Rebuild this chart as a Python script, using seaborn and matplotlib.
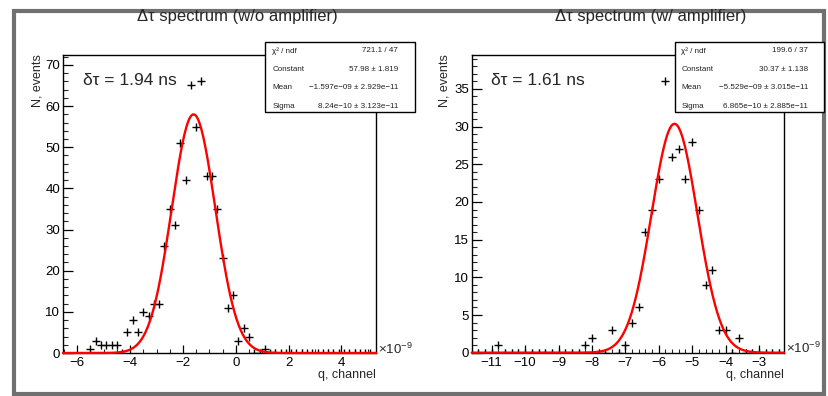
import numpy as np
import matplotlib
matplotlib.use("Agg")
import matplotlib.pyplot as plt
import seaborn as sns
from matplotlib.patches import Rectangle
from matplotlib.ticker import MultipleLocator

sns.set_theme(style="white")
plt.rcParams['font.family'] = ['Liberation Sans', 'DejaVu Sans']
plt.rcParams['mathtext.fontset'] = 'custom'
plt.rcParams['mathtext.rm'] = 'Liberation Sans'
plt.rcParams['mathtext.it'] = 'Liberation Sans:italic'
plt.rcParams['axes.unicode_minus'] = True

# ---------------- data (x in units of 1e-9) ----------------
left_x = [-5.5, -5.3, -5.1, -4.9, -4.7, -4.5, -4.3, -4.1, -3.9, -3.7, -3.5, -3.3,
          -3.1, -2.9, -2.7, -2.5, -2.3, -2.1, -1.9, -1.7, -1.5, -1.3, -1.1, -0.9,
          -0.7, -0.5, -0.3, -0.1, 0.1, 0.3, 0.5, 0.7, 0.9, 1.1, 1.3, 1.5, 1.7, 1.9,
          2.1, 2.3, 2.5, 2.7, 2.9, 3.1, 3.3, 3.5, 3.7, 3.9, 4.1, 4.3, 4.5, 4.7, 4.9, 5.1]
left_n = [1, 3, 2, 2, 2, 2, 0, 5, 8, 5, 10, 9,
          12, 12, 26, 35, 31, 51, 42, 65, 55, 66, 43, 43,
          35, 23, 11, 14, 3, 6, 4, 0, 0, 1, 0, 0, 0, 0,
          0, 0, 0, 0, 0, 0, 0, 0, 0, 0, 0, 0, 0, 0, 0, 0]

right_x = [-11.4, -11.2, -11.0, -10.8, -10.6, -10.4, -10.2, -10.0, -9.8, -9.6,
           -9.4, -9.2, -9.0, -8.8, -8.6, -8.4, -8.2, -8.0, -7.8, -7.6,
           -7.4, -7.2, -7.0, -6.8, -6.6, -6.4, -6.2, -6.0, -5.8, -5.6,
           -5.4, -5.2, -5.0, -4.8, -4.6, -4.4, -4.2, -4.0, -3.8, -3.6,
           -3.4, -3.2, -3.0, -2.8, -2.6, -2.4]
right_n = [0, 0, 0, 1, 0, 0, 0, 0, 0, 0,
           0, 0, 0, 0, 0, 0, 1, 2, 0, 0,
           3, 0, 1, 4, 6, 16, 19, 23, 36, 26,
           27, 23, 28, 19, 9, 11, 3, 3, 0, 2,
           0, 0, 0, 0, 0, 0]

# fit parameters (from stats boxes)
left_fit = {"const": 57.98, "mean": -1.597, "sigma": 0.824}
right_fit = {"const": 30.37, "mean": -5.529, "sigma": 0.6865}

titles = ["\u0394\u03c4 spectrum (w/o amplifier)", "\u0394\u03c4 spectrum (w/ amplifier)"]
res_texts = ["\u03b4\u03c4 = 1.94 ns", "\u03b4\u03c4 = 1.61 ns"]
stat_labels = ["\u03c7\u00b2 / ndf", "Constant", "Mean", "Sigma"]
left_stats = ["721.1 / 47", "57.98 \u00b1 1.819", "\u22121.597e\u221209 \u00b1 2.929e\u221211",
              "8.24e\u221210 \u00b1 3.123e\u221211"]
right_stats = ["199.6 / 37", "30.37 \u00b1 1.138", "\u22125.529e\u221209 \u00b1 3.015e\u221211",
               "6.865e\u221210 \u00b1 2.885e\u221211"]

W, H = 829, 396
fig = plt.figure(figsize=(W / 100, H / 100), dpi=100)
fig.patch.set_facecolor("white")


def fx(px):
    return px / W


def fy(py):
    return 1 - py / H


# canvas border
fig.add_artist(Rectangle((fx(14), fy(393.5)), fx(824 - 14), (393.5 - 10.5) / H,
                         transform=fig.transFigure, fill=False,
                         ec="#707070", lw=3.0, zorder=0))

panels = [
    dict(x=left_x, n=left_n, fit=left_fit, ax=(63, 376, 55, 353), xlim=(-6.54, 5.31),
         ylim=(0, 72.4), xmaj=2, xmin=0.5, ymaj=10, ymin=2, title=titles[0], title_x=237,
         res=res_texts[0], res_x=83, stats=left_stats, box=(265, 415), ylab_x=37,
         label_x=272.5, val_x=398),
    dict(x=right_x, n=right_n, fit=right_fit, ax=(471.7, 784, 55, 352.7), xlim=(-11.6, -2.25),
         ylim=(0, 39.5), xmaj=1, xmin=0.2, ymaj=5, ymin=1, title=titles[1], title_x=651,
         res=res_texts[1], res_x=491, stats=right_stats, box=(675, 824), ylab_x=445,
         label_x=681.5, val_x=808),
]

for p in panels:
    x0, x1, y0, y1 = p["ax"]
    ax = fig.add_axes([fx(x0), fy(y1), (x1 - x0) / W, (y1 - y0) / H])
    ax.set_facecolor("white")
    ax.set_xlim(*p["xlim"])
    ax.set_ylim(*p["ylim"])

    sns.scatterplot(x=p["x"], y=p["n"], marker="+", s=30, color="black",
                    linewidth=1.0, ax=ax, zorder=3, legend=False)

    xs = np.linspace(p["xlim"][0], p["xlim"][1], 300)
    f = p["fit"]
    ys = f["const"] * np.exp(-0.5 * ((xs - f["mean"]) / f["sigma"]) ** 2)
    sns.lineplot(x=xs, y=ys, color="#ff0000", linewidth=1.7, ax=ax, zorder=4,
                 legend=False, clip_on=False)

    ax.xaxis.set_major_locator(MultipleLocator(p["xmaj"]))
    ax.xaxis.set_minor_locator(MultipleLocator(p["xmin"]))
    ax.yaxis.set_major_locator(MultipleLocator(p["ymaj"]))
    ax.yaxis.set_minor_locator(MultipleLocator(p["ymin"]))
    ax.tick_params(axis="x", which="major", direction="in", length=6, width=0.9,
                   labelsize=9.5, pad=3, colors="black", top=False, bottom=True)
    ax.tick_params(axis="x", which="minor", direction="in", length=3, width=0.8,
                   top=False, bottom=True)
    ax.tick_params(axis="y", which="major", direction="in", length=7.5, width=0.9,
                   labelsize=9.5, pad=2, colors="black", left=True, right=False)
    ax.tick_params(axis="y", which="minor", direction="in", length=3.7, width=0.8,
                   left=True, right=False)
    for s in ax.spines.values():
        s.set_color("black")
        s.set_linewidth(1.0)
        s.set_visible(True)
    ax.set_xlabel("")
    ax.set_ylabel("")
    ax.grid(False)

    # labels
    fig.text(fx(x1), fy(375), "q, channel", ha="right", va="center", fontsize=9)
    fig.text(fx(p["ylab_x"]), fy(y0 - 1), "N, events", rotation=90, ha="center",
             va="top", fontsize=9)
    fig.text(fx(x1 + 2), fy(y1 - 4), r"$\times$10$^{-9}$", ha="left", va="center",
             fontsize=9.5)
    fig.text(fx(p["title_x"]), fy(17), p["title"], ha="center", va="center", fontsize=12)
    fig.text(fx(p["res_x"]), fy(85), p["res"], ha="left", va="baseline", fontsize=12.5)

    # stats box
    bx0, bx1 = p["box"]
    fig.add_artist(Rectangle((fx(bx0), fy(112)), (bx1 - bx0) / W, (112 - 41.5) / H,
                             transform=fig.transFigure, fc="white", ec="black",
                             lw=1.0, zorder=10))
    for lab, val, ry in zip(stat_labels, p["stats"], [50.7, 69.3, 87.7, 106.7]):
        fig.text(fx(p["label_x"]), fy(ry), lab, ha="left", va="center", fontsize=5.8,
                 color="#222222", zorder=11)
        fig.text(fx(p["val_x"]), fy(ry), val, ha="right", va="center", fontsize=5.8,
                 color="#222222", zorder=11)

fig.savefig("out.png", dpi=100)
